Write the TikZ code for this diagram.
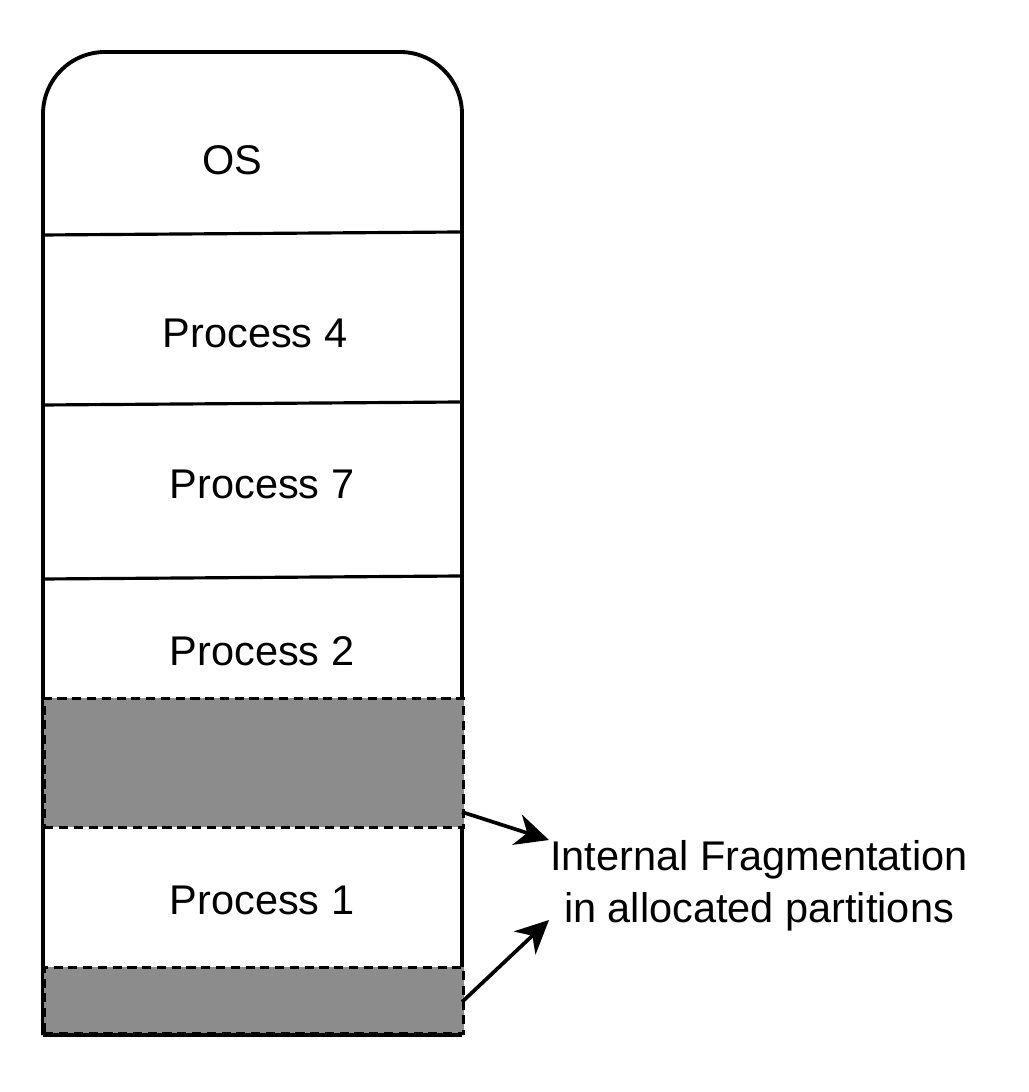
\documentclass[tikz,border=0pt]{standalone}
\usepackage{fontspec}
\setmainfont{Liberation Sans}
\usetikzlibrary{arrows.meta}

\definecolor{wastegray}{HTML}{8C8C8C}

\tikzset{
  part/.style={font=\fontsize{11.8}{14.8}\selectfont, align=center},
  waste/.style={fill=wastegray, draw=black, line width=.75pt,
    dash pattern=on 2.6pt off 1.6pt, inner sep=0pt, anchor=north west,
    minimum width=4.19cm},
  pointer/.style={line width=1.05pt, -{Stealth[length=9.5pt,width=9pt,inset=3pt]}},
}

\begin{document}
\begin{tikzpicture}[x=0.01cm, y=-0.01cm, line width=1.1pt]
\useasboundingbox (0,0) rectangle (1028,1092);

% memory column
\draw[rounded corners=0.62cm] (43,1035) -- (43,52) -- (462,52) -- (462,1035);
\draw (43,1035) -- (462,1035);
\foreach \ya/\yb in {235/232, 405/402, 579/576}
    \draw[line width=.9pt] (43,\ya) -- (460,\yb);

% wasted space
\node[waste, minimum height=1.29cm] (gap1) at (43,697) {};
\node[waste, minimum height=0.66cm] (gap2) at (43,966) {};

\node[part] (os) at (232,160) {OS};
\node[part] (p4) at (255,333) {Process 4};
\node[part] (p7) at (262,484) {Process 7};
\node[part] (p2) at (262,651) {Process 2};
\node[part] (p1) at (262,900) {Process 1};

\node[part] (frag) at (759,886) {Internal Fragmentation\\in allocated partitions};

\coordinate (s1) at (462,812);
\coordinate (s2) at (462,1002);
\coordinate (t1) at (549,840);
\coordinate (t2) at (549,920);
\draw[pointer] (s1) -- (t1);
\draw[pointer] (s2) -- (t2);
%\draw[pointer] (gap1.east) -- (frag.west);
\end{tikzpicture}
\end{document}
